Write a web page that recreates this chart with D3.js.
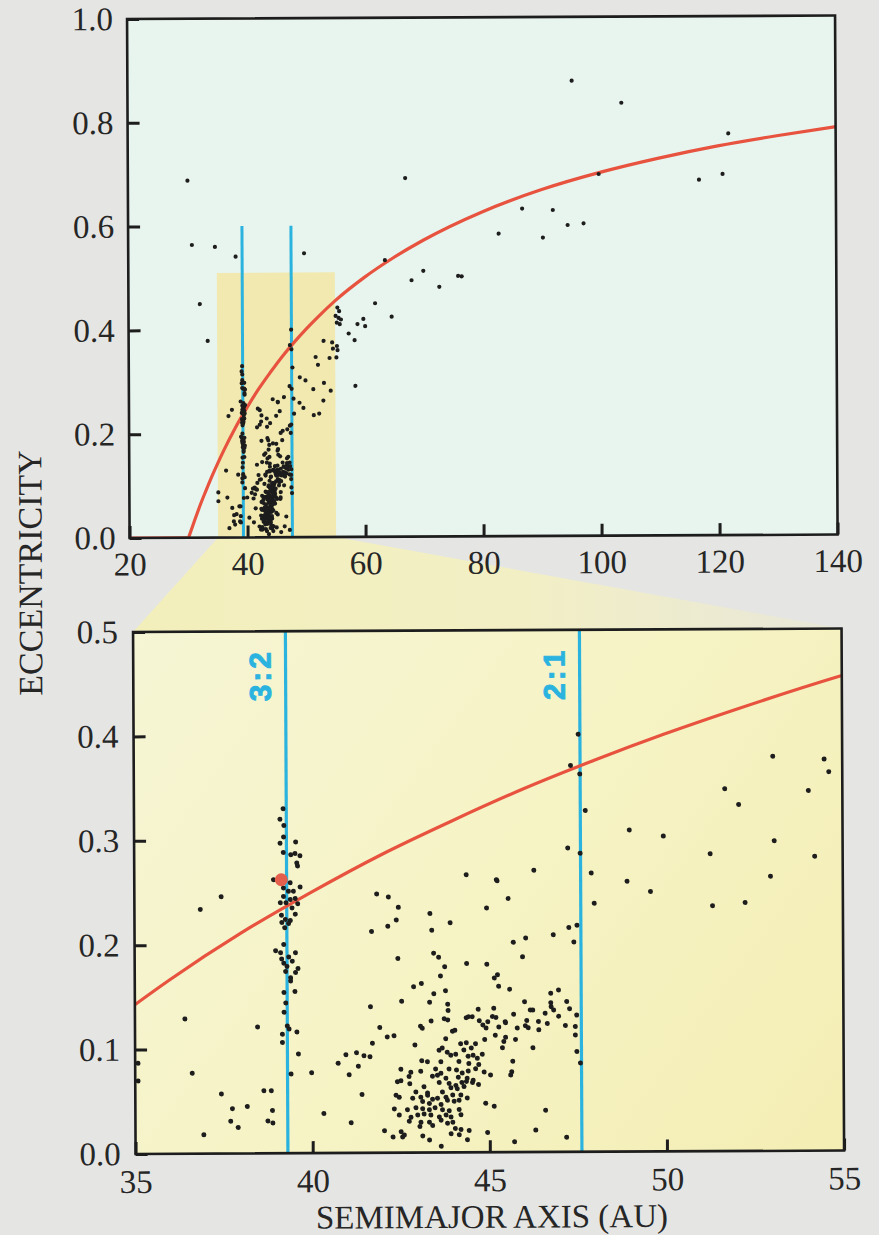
<!DOCTYPE html>
<html>
<head>
<meta charset="utf-8">
<script src="https://cdn.jsdelivr.net/npm/d3@7"></script>
<style>
  html, body { margin: 0; padding: 0; background: #e5e5e3; }
  svg { display: block; }
  .serif { font-family: "Liberation Serif", "Times New Roman", serif; }
  .res-label { font-family: "Liberation Sans", Arial, sans-serif; font-weight: 700; }
</style>
</head>
<body>
<svg id="chart" width="879" height="1235"></svg>
<script>
// ---- Data: [semimajor axis (AU), eccentricity] ----

// Objects between 35 and 39 AU
const innerObjects = [
  [35.08,0.087],[35.08,0.070],[36.41,0.129],[36.61,0.077],[36.86,0.234],[36.93,0.018],
  [37.43,0.057],[37.45,0.246],[37.74,0.043],[38.16,0.045],[37.69,0.031],[37.90,0.025],
  [38.46,0.121],[38.63,0.060],[38.84,0.060],[38.87,0.041],[38.74,0.031],[38.88,0.029],
  [38.93,0.262]
];

// Objects in the 3:2 resonance with Neptune
const plutinos = [
  [39.21,0.330],[39.12,0.320],[39.23,0.314],[39.22,0.303],[39.12,0.297],[39.56,0.298],
  [39.21,0.288],[39.42,0.286],[39.54,0.287],[39.68,0.285],[39.59,0.278],[39.61,0.275],
  [39.40,0.259],[39.68,0.255],[39.21,0.254],[39.35,0.251],[39.49,0.251],[39.21,0.246],
  [39.40,0.243],[39.54,0.244],[39.61,0.239],[39.12,0.240],[39.28,0.240],[39.45,0.235],
  [39.54,0.229],[39.15,0.228],[39.26,0.224],[39.40,0.223],[39.16,0.221],[39.35,0.220],
  [39.24,0.216],[39.21,0.200],[38.98,0.194],[39.12,0.192],[39.54,0.192],[39.15,0.186],
  [39.35,0.188],[39.45,0.184],[39.21,0.182],[39.30,0.179],[39.61,0.177],[39.54,0.173],
  [39.40,0.168],[39.26,0.174],[39.40,0.165],[39.52,0.155],[39.21,0.154],[39.26,0.144],
  [39.21,0.135],[39.30,0.122],[39.35,0.119],[39.57,0.116],[39.16,0.114],[39.16,0.106],
  [39.61,0.095],[39.40,0.076]
];

// Classical belt, 40 to 47.5 AU
const classicalBelt = [
  [39.98,0.077],[40.32,0.038],[40.73,0.086],[40.95,0.094],[41.04,0.075],[41.25,0.096],
  [41.30,0.083],[41.46,0.093],[41.63,0.092],[41.40,0.056],[41.09,0.029],[41.65,0.140],
  [41.91,0.120],[42.12,0.111],[42.31,0.112],[41.70,0.105],[42.03,0.021],[42.27,0.015],
  [42.50,0.020],[42.54,0.015],[42.53,0.145],[42.87,0.159],[43.09,0.162],[43.06,0.121],
  [42.90,0.103],
  [41.84,0.248],[42.17,0.245],[42.45,0.235],[41.69,0.212],[42.15,0.217],[42.39,0.223],
  [43.34,0.229],[43.39,0.213],[43.91,0.220],[44.37,0.266],[44.94,0.234],[45.22,0.261],
  [42.43,0.186],[43.44,0.191],[43.58,0.187],[43.75,0.178],[43.63,0.169],[44.37,0.181],
  [44.94,0.180],[45.15,0.167],
  [43.77,0.155],[43.44,0.152],[45.58,0.156],[46.74,0.152],[46.96,0.155],[43.32,0.144],
  [43.83,0.142],[46.00,0.144],[46.74,0.143],[47.19,0.144],[43.84,0.136],[44.69,0.137],
  [45.13,0.138],[46.16,0.136],[46.23,0.136],[46.75,0.139],[46.82,0.136],[47.27,0.137],
  [46.58,0.133],[47.47,0.131],[45.69,0.132],[44.52,0.130],[45.09,0.130],[45.19,0.129],
  [43.36,0.126],[43.73,0.128],[43.83,0.127],[44.35,0.129],[44.41,0.130],[44.72,0.126],
  [44.82,0.122],[44.96,0.125],[45.45,0.125],[45.46,0.124],[46.06,0.126],[46.39,0.125],
  [46.64,0.123],[46.96,0.130],[43.11,0.119],[43.96,0.116],[44.03,0.117],[44.91,0.119],
  [45.27,0.120],[45.79,0.119],[46.02,0.121],[46.10,0.119],[46.40,0.117],[47.15,0.121],
  [47.43,0.120],[43.77,0.109],[44.19,0.104],[44.35,0.105],[44.61,0.104],[44.87,0.108],
  [45.17,0.112],[45.46,0.110],[45.41,0.106],[45.74,0.108],[46.23,0.100],[47.43,0.112],
  [47.47,0.096],[44.49,0.100],[43.58,0.098],[43.67,0.100],[43.81,0.096],[43.91,0.093],
  [44.05,0.094],[44.28,0.098],[44.40,0.092],[44.54,0.093],[44.66,0.090],[44.80,0.094],
  [45.37,0.100],[43.09,0.088],[43.25,0.087],[43.63,0.087],[44.14,0.087],[44.42,0.085],
  [44.70,0.084],[45.66,0.087],[47.57,0.085],[42.50,0.080],[42.78,0.077],[43.06,0.078],
  [43.48,0.080],[43.63,0.076],[43.86,0.080],[44.07,0.079],[44.23,0.076],[44.40,0.078],
  [44.61,0.080],[44.85,0.077],[45.03,0.074],[45.60,0.074],[45.63,0.077],[42.50,0.069],
  [42.73,0.073],[43.39,0.073],[43.53,0.074],[43.77,0.071],[44.12,0.072],[44.37,0.071],
  [44.54,0.069],[42.40,0.068],[42.75,0.066],[43.58,0.067],[43.86,0.066],[44.05,0.064],
  [44.22,0.067],[44.35,0.068],[44.52,0.067],[44.69,0.065],[43.91,0.062],[44.09,0.061],
  [44.28,0.063],[43.15,0.063],[42.92,0.058],[43.25,0.057],[43.67,0.058],[42.36,0.055],
  [42.45,0.053],[42.83,0.052],[43.06,0.053],[43.25,0.055],[43.39,0.051],[43.53,0.052],
  [43.77,0.053],[43.96,0.055],[44.19,0.055],[43.81,0.050],[44.00,0.049],[44.14,0.050],
  [44.37,0.052],[43.11,0.049],[43.30,0.047],[43.63,0.046],[44.89,0.047],[45.13,0.044],
  [42.31,0.042],[42.68,0.041],[42.92,0.043],[43.11,0.042],[43.30,0.041],[43.46,0.043],
  [43.67,0.041],[43.86,0.040],[44.14,0.041],[42.45,0.036],[42.78,0.034],[42.97,0.036],
  [43.15,0.037],[43.34,0.036],[43.58,0.034],[43.77,0.036],[43.91,0.034],[44.19,0.036],
  [46.58,0.040],[42.73,0.030],[43.06,0.029],[43.30,0.029],[43.63,0.031],[43.81,0.028],
  [43.96,0.029],[43.03,0.025],[43.39,0.026],[44.03,0.023],[44.19,0.022],[44.42,0.021],
  [46.30,0.021],[42.59,0.017],[43.11,0.016],[43.30,0.012],[43.91,0.018],[44.14,0.017],
  [44.37,0.012],[44.94,0.019],[43.63,0.006],[45.70,0.010],[47.17,0.014]
];

// Objects near the 2:1 resonance and out to 55 AU
const outerBelt = [
  [47.33,0.370],[47.59,0.362],[47.55,0.400],[53.04,0.378],[54.49,0.375],[54.62,0.363],
  [51.68,0.347],[52.07,0.332],[54.04,0.345],[47.74,0.327],[48.98,0.308],[49.94,0.302],
  [51.26,0.285],[53.07,0.297],[54.21,0.282],[47.24,0.291],[47.59,0.286],[47.90,0.267],
  [46.28,0.270],[45.24,0.260],[48.91,0.259],[49.57,0.249],[52.96,0.263],[45.55,0.243],
  [47.98,0.238],[51.32,0.235],[52.24,0.238],[47.26,0.215],[47.49,0.217],[47.40,0.201],
  [46.82,0.208],[46.04,0.205],[45.69,0.201],[45.95,0.187],[45.24,0.170],[45.27,0.159]
];

// Scattered objects seen only in the full-range panel
const scatteredObjects = [
  [30.1,0.688],[30.8,0.564],[34.7,0.560],[38.2,0.541],[49.8,0.547],[32.1,0.450],
  [33.4,0.379],[67.0,0.691],[63.5,0.533],[68.0,0.494],[70.0,0.512],[72.7,0.481],
  [75.9,0.502],[76.5,0.501],[82.8,0.583],[95.3,0.877],[103.7,0.834],[121.8,0.774],
  [99.8,0.697],[116.8,0.685],[120.8,0.696],[86.8,0.631],[92.0,0.628],[90.3,0.575],
  [94.5,0.599],[97.2,0.602],[61.8,0.450],[64.6,0.424],[57.3,0.392],[58.8,0.410],
  [59.8,0.420],[60.1,0.406],[58.3,0.379],[58.4,0.291],[55.4,0.442],[55.7,0.435],
  [55.1,0.426],[55.6,0.422],[56.0,0.419],[55.3,0.413],[55.8,0.410],[55.3,0.368],
  [55.4,0.360],[55.2,0.346]
];

// Pluto
const pluto = [39.15, 0.262];

// Mean-motion resonances with Neptune
const resonanceNames = ["3:2", "2:1"];
const resonanceAU = [39.3, 47.6];

// Perihelion at Neptune's distance (q = 30 AU)
const perihelionFlat = [[20,0],[30,0]];
const perihelionCurve = [
  [30,0],[31,0.032],[32,0.063],[33,0.091],[34,0.118],[35,0.143],[36,0.167],[38,0.211],
  [40,0.25],[42,0.286],[44,0.318],[46,0.348],[48,0.375],[50,0.4],[52,0.423],[55,0.455],
  [60,0.5],[65,0.538],[70,0.571],[80,0.625],[90,0.667],[100,0.7],[110,0.727],[120,0.75],
  [130,0.769],[140,0.786]
];

// Axes
const fullDomainA = [20, 140];
const fullDomainE = [0, 1];
const fullTicksA = [20, 40, 60, 80, 100, 120, 140];
const fullTicksE = [0, 0.2, 0.4, 0.6, 0.8, 1.0];
const zoomDomainA = [35, 55];
const zoomDomainE = [0, 0.5];
const zoomTicksA = [35, 40, 45, 50, 55];
const zoomTicksE = [0, 0.1, 0.2, 0.3, 0.4, 0.5];
const resonanceTopE = 0.6;
const zoomBoxTopE = 0.51;

const xLabel = "SEMIMAJOR AXIS (AU)";
const yLabel = "ECCENTRICITY";

// ---- Drawing ----
const allObjects = [].concat(innerObjects, plutinos, classicalBelt, outerBelt, scatteredObjects);
const zoomObjects = allObjects.filter(d => d[0] >= zoomDomainA[0] && d[0] <= zoomDomainA[1] && d[1] <= zoomDomainE[1]);

const INK = "#1d1d1d";
const TEXT = "#262626";
const RED = "#e8533f";
const BLUE = "#2bb3e0";

const svg = d3.select("#chart");
const defs = svg.append("defs");

svg.append("rect").attr("width", 879).attr("height", 1235).attr("fill", "#e5e5e3");

// the printed page sits very slightly askew
const root = svg.append("g").attr("transform", "rotate(-0.28,440,620)");

const xTop = d3.scaleLinear().domain(fullDomainA).range([130, 838]);
const yTop = d3.scaleLinear().domain(fullDomainE).range([536.5, 17.5]);
const xBot = d3.scaleLinear().domain(zoomDomainA).range([133, 841.5]);
const yBot = d3.scaleLinear().domain(zoomDomainE).range([1152.5, 630.5]);

// gradients
const trapGrad = defs.append("linearGradient").attr("id", "trapGrad")
  .attr("gradientUnits", "userSpaceOnUse").attr("x1", 130).attr("y1", 0).attr("x2", 845).attr("y2", 0);
trapGrad.append("stop").attr("offset", 0).attr("stop-color", "#f3efbb");
trapGrad.append("stop").attr("offset", 0.55).attr("stop-color", "#f2efc5");
trapGrad.append("stop").attr("offset", 1).attr("stop-color", "#e8e7d9");

const botGrad = defs.append("linearGradient").attr("id", "botGrad")
  .attr("gradientUnits", "userSpaceOnUse").attr("x1", 133).attr("y1", 630).attr("x2", 841).attr("y2", 1152);
botGrad.append("stop").attr("offset", 0).attr("stop-color", "#f6f5d4");
botGrad.append("stop").attr("offset", 0.5).attr("stop-color", "#f6f3c5");
botGrad.append("stop").attr("offset", 1).attr("stop-color", "#f4eeb4");

// clip paths
defs.append("clipPath").attr("id", "clipTop").append("rect")
  .attr("x", xTop.range()[0]).attr("y", yTop.range()[1])
  .attr("width", xTop.range()[1] - xTop.range()[0]).attr("height", yTop.range()[0] - yTop.range()[1]);
defs.append("clipPath").attr("id", "clipBot").append("rect")
  .attr("x", xBot.range()[0]).attr("y", yBot.range()[1])
  .attr("width", xBot.range()[1] - xBot.range()[0]).attr("height", yBot.range()[0] - yBot.range()[1]);

// zoom connector between the panels
root.append("path")
  .attr("d", d3.line()([
    [xTop(zoomDomainA[0]), yTop(0)], [xTop(zoomDomainA[1]), yTop(0)],
    [xBot(zoomDomainA[1]), yBot(zoomDomainE[1])], [xBot(zoomDomainA[0]), yBot(zoomDomainE[1])]
  ]) + "Z")
  .attr("fill", "url(#trapGrad)");

function drawAxes(g, x, y, ticksX, ticksY, fmtX, padX, padY) {
  const y0 = y.range()[0];
  const x0 = x.range()[0];
  const ax = g.append("g").attr("transform", `translate(0,${y0})`)
    .call(d3.axisBottom(x).tickValues(ticksX).tickFormat(fmtX).tickSizeInner(-12).tickSizeOuter(0).tickPadding(padX));
  const ay = g.append("g").attr("transform", `translate(${x0},0)`)
    .call(d3.axisLeft(y).tickValues(ticksY).tickFormat(d3.format(".1f")).tickSizeInner(-12).tickSizeOuter(0).tickPadding(padY));
  [ax, ay].forEach(a => {
    a.select(".domain").remove();
    a.attr("font-family", null).attr("font-size", null);
    a.selectAll(".tick line").attr("stroke", INK).attr("stroke-width", 3);
    a.selectAll(".tick text")
      .attr("class", "serif")
      .style("font-family", '"Liberation Serif", "Times New Roman", serif')
      .style("font-size", "33px")
      .attr("fill", TEXT);
  });
  g.append("rect")
    .attr("x", x.range()[0]).attr("y", y.range()[1])
    .attr("width", x.range()[1] - x.range()[0]).attr("height", y.range()[0] - y.range()[1])
    .attr("fill", "none").attr("stroke", INK).attr("stroke-width", 2.6);
}

// ---- full-range panel ----
const overview = root.append("g");
overview.append("rect")
  .attr("x", xTop.range()[0]).attr("y", yTop.range()[1])
  .attr("width", xTop.range()[1] - xTop.range()[0]).attr("height", yTop.range()[0] - yTop.range()[1])
  .attr("fill", "#e8f4ee");
overview.append("rect")
  .attr("x", xTop(zoomDomainA[0])).attr("y", yTop(zoomBoxTopE))
  .attr("width", xTop(zoomDomainA[1]) - xTop(zoomDomainA[0])).attr("height", yTop(0) - yTop(zoomBoxTopE))
  .attr("fill", "#f1e9b0");

const overviewPlot = overview.append("g").attr("clip-path", "url(#clipTop)");
overviewPlot.selectAll("line.res").data(resonanceAU).join("line")
  .attr("x1", d => xTop(d)).attr("x2", d => xTop(d))
  .attr("y1", yTop(0)).attr("y2", yTop(resonanceTopE))
  .attr("stroke", BLUE).attr("stroke-width", 3);

const lineTop = d3.line().x(d => xTop(d[0])).y(d => yTop(d[1]));
overviewPlot.append("path").attr("d", lineTop(perihelionFlat))
  .attr("fill", "none").attr("stroke", RED).attr("stroke-width", 3.2);
overviewPlot.append("path").attr("d", lineTop.curve(d3.curveMonotoneX)(perihelionCurve))
  .attr("fill", "none").attr("stroke", RED).attr("stroke-width", 3.2);

overviewPlot.selectAll("circle.obj").data(allObjects).join("circle")
  .attr("cx", d => xTop(d[0])).attr("cy", d => yTop(d[1])).attr("r", 2.1)
  .attr("fill", INK);

drawAxes(overview, xTop, yTop, fullTicksA, fullTicksE, d3.format("d"), 14, 14);

// ---- zoomed panel ----
const detail = root.append("g");
detail.append("rect")
  .attr("x", xBot.range()[0]).attr("y", yBot.range()[1])
  .attr("width", xBot.range()[1] - xBot.range()[0]).attr("height", yBot.range()[0] - yBot.range()[1])
  .attr("fill", "url(#botGrad)");

const detailPlot = detail.append("g").attr("clip-path", "url(#clipBot)");
detailPlot.selectAll("line.res").data(resonanceAU).join("line")
  .attr("x1", d => xBot(d)).attr("x2", d => xBot(d))
  .attr("y1", yBot(0)).attr("y2", yBot(zoomDomainE[1]))
  .attr("stroke", BLUE).attr("stroke-width", 3.2);

const lineBot = d3.line().x(d => xBot(d[0])).y(d => yBot(d[1])).curve(d3.curveMonotoneX);
detailPlot.append("path").attr("d", lineBot(perihelionCurve))
  .attr("fill", "none").attr("stroke", RED).attr("stroke-width", 3.2);

detailPlot.selectAll("circle.obj").data(zoomObjects).join("circle")
  .attr("cx", d => xBot(d[0])).attr("cy", d => yBot(d[1])).attr("r", 2.5)
  .attr("fill", INK);

detailPlot.append("circle")
  .attr("cx", xBot(pluto[0])).attr("cy", yBot(pluto[1])).attr("r", 6.5)
  .attr("fill", "#e4604c");

drawAxes(detail, xBot, yBot, zoomTicksA, zoomTicksE, d3.format("d"), 15.5, 15);

// resonance labels
detail.selectAll("text.res").data(resonanceAU).join("text")
  .attr("class", "res-label")
  .attr("transform", d => `translate(${xBot(d) - 15},${yBot(zoomDomainE[1]) + 70}) rotate(-90)`)
  .attr("text-anchor", "start")
  .style("font-size", "30px")
  .style("letter-spacing", "3px")
  .attr("fill", BLUE)
  .attr("stroke", BLUE)
  .attr("stroke-width", 0.9)
  .text((d, i) => resonanceNames[i]);

// axis titles
root.append("text")
  .attr("class", "serif")
  .attr("x", 489).attr("y", 1228)
  .attr("text-anchor", "middle")
  .style("font-size", "33px").attr("fill", TEXT)
  .text(xLabel);

root.append("text")
  .attr("class", "serif")
  .attr("transform", "translate(42,571) rotate(-90)")
  .attr("text-anchor", "middle")
  .style("font-size", "34px").attr("fill", TEXT)
  .text(yLabel);
</script>
</body>
</html>
